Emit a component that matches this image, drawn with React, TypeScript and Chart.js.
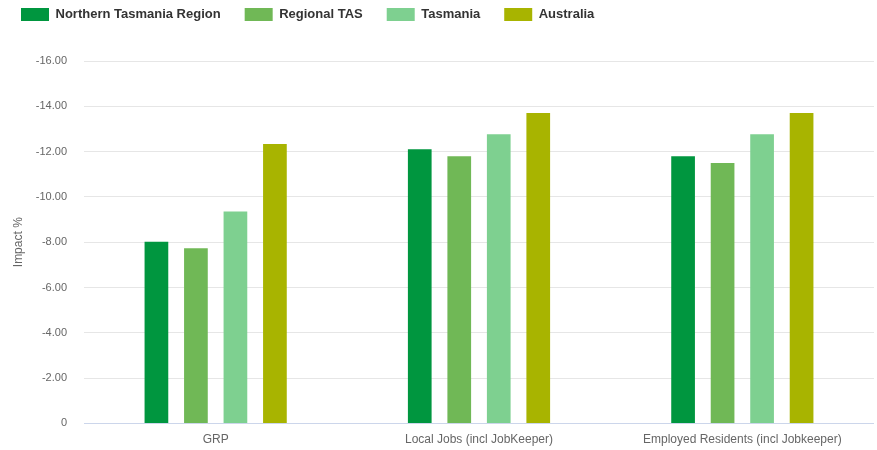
import React, { useEffect, useRef } from "react";
import { Chart, registerables } from "chart.js";

Chart.register(...registerables);

// Economic impact estimates (%) by measure and geography
const categories = ["GRP", "Local Jobs (incl JobKeeper)", "Employed Residents (incl Jobkeeper)"];
const seriesNames = ["Northern Tasmania Region", "Regional TAS", "Tasmania", "Australia"];
const northernTasmania = [-8.02, -12.1, -11.8];
const regionalTas = [-7.73, -11.8, -11.5];
const tasmania = [-9.36, -12.77, -12.77];
const australia = [-12.34, -13.7, -13.7];
const seriesColors = ["#00963f", "#70b856", "#7ed090", "#a8b400"];

const FONT = "'Liberation Sans', Arial, Helvetica, sans-serif";

// Keeps a fixed band between the legend row and the plot area
const legendBand = {
  id: "legendBand",
  beforeInit(chart: any) {
    const legend = chart.legend;
    if (!legend) return;
    const fit = legend.fit.bind(legend);
    legend.fit = () => {
      fit();
      legend.height = 77;
    };
  },
};

export default function App() {
  const canvasRef = useRef<HTMLCanvasElement | null>(null);

  useEffect(() => {
    if (!canvasRef.current) return;
    const values = [northernTasmania, regionalTas, tasmania, australia];
    const chart = new Chart(canvasRef.current, {
      type: "bar",
      data: {
        labels: categories,
        datasets: seriesNames.map((name, i) => ({
          label: name,
          data: values[i],
          backgroundColor: seriesColors[i],
          borderWidth: 0,
          categoryPercentage: 0.6,
          barPercentage: 0.6,
        })),
      },
      plugins: [legendBand],
      options: {
        animation: false,
        responsive: true,
        maintainAspectRatio: false,
        layout: { padding: 0 },
        plugins: {
          tooltip: { enabled: false },
          legend: {
            position: "top",
            align: "start",
            labels: {
              boxWidth: 28,
              boxHeight: 13,
              padding: 24,
              color: "#333333",
              font: { family: FONT, size: 13, weight: "bold" },
            },
          },
        },
        scales: {
          x: {
            afterFit: (scale: any) => {
              scale.height = 26.6;
            },
            grid: { display: false, drawTicks: false },
            border: { display: true, color: "#ccd6eb", width: 1 },
            ticks: {
              color: "#666666",
              padding: 9,
              font: { family: FONT, size: 12 },
              maxRotation: 0,
            },
          },
          y: {
            reverse: true,
            min: -16,
            max: 0,
            afterFit: (scale: any) => {
              scale.width = 87;
            },
            ticks: {
              stepSize: 2,
              padding: 17,
              color: "#666666",
              font: { family: FONT, size: 11 },
              callback: (v: any) => (Number(v) === 0 ? "0" : Number(v).toFixed(2)),
            },
            grid: {
              drawTicks: false,
              color: (ctx: any) => (ctx.tick && ctx.tick.value === 0 ? "#ccd6eb" : "#e6e6e6"),
            },
            border: { display: false },
            title: {
              display: true,
              text: "Impact %",
              color: "#666666",
              font: { family: FONT, size: 12 },
              padding: { top: 14, bottom: 0 },
            },
          },
        },
      },
    });
    return () => chart.destroy();
  }, []);

  return (
    <div style={{ position: "fixed", left: 0, top: 0, width: 877, height: 450, overflow: "hidden", background: "#fff" }}>
      <div style={{ position: "absolute", left: -3, top: -16, width: 877, height: 466 }}>
        <canvas ref={canvasRef} />
      </div>
    </div>
  );
}
